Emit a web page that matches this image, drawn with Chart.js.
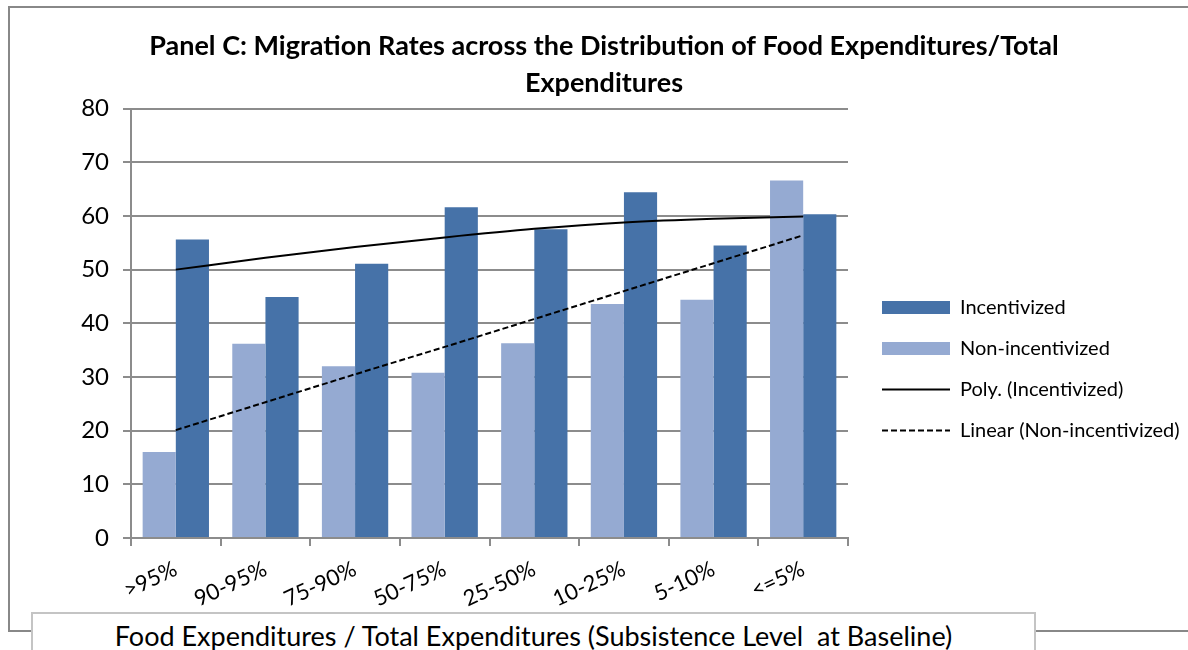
<!DOCTYPE html>
<html>
<head>
<meta charset="utf-8">
<title>Panel C</title>
<script src="https://cdn.jsdelivr.net/npm/chart.js@4.4.1/dist/chart.umd.min.js"></script>
<style>
  html, body { margin: 0; padding: 0; background: #fff; }
  body { position: relative; width: 1188px; height: 650px; overflow: hidden; font-family: Lato, "Open Sans", sans-serif; }
  #frame { position: absolute; left: 8px; top: 6px; width: 1200px; height: 622px; border: 2px solid #888; }
  #chart { position: absolute; left: 0; top: 0; }
  #xtitle {
    position: absolute; left: 31px; top: 612px; width: 1001px; height: 60px;
    border: 2px solid #c4c4c4; background: #fff;
    text-align: center; font-size: 27px; line-height: 44px; white-space: pre; color: #000;
  }
</style>
</head>
<body>
<div id="frame"></div>
<canvas id="chart" width="1188" height="650"></canvas>
<div id="xtitle">Food Expenditures / Total Expenditures (Subsistence Level  at Baseline)</div>
<script>
const categories = [">95%", "90-95%", "75-90%", "50-75%", "25-50%", "10-25%", "5-10%", "<=5%"];
const nonIncentivized = [16.0, 36.2, 32.0, 30.8, 36.3, 43.6, 44.4, 66.6];
const incentivized = [55.6, 44.9, 51.1, 61.6, 57.5, 64.4, 54.5, 60.3];
// trendlines at each category centre
const polyIncentivized = [50.0, 52.2, 54.2, 56.0, 57.6, 58.8, 59.5, 59.9];
const linearNonIncentivized = [20.1, 25.3, 30.5, 35.6, 40.8, 46.0, 51.2, 56.4];
const yTicks = [0, 10, 20, 30, 40, 50, 60, 70, 80];
const legendOrder = ["Incentivized", "Non-incentivized", "Poly. (Incentivized)", "Linear (Non-incentivized)"];

const darkBlue = "#4672a8";
const lightBlue = "#95aad2";
const gridGray = "#8c8c8c";
const font = "Lato, 'Open Sans', sans-serif";

// legend entries: bars as filled boxes, trendlines as (dashed) strokes
function legendLabels(chart) {
  const items = Chart.defaults.plugins.legend.labels.generateLabels(chart);
  items.forEach((item) => {
    const ds = chart.data.datasets[item.datasetIndex];
    if (ds.type === "line") {
      item.lineWidth = ds.borderWidth;
      item.lineDash = ds.borderDash || [];
      item.strokeStyle = ds.borderColor;
    } else {
      item.lineWidth = 0;
    }
  });
  return items;
}

const ctx = document.getElementById("chart").getContext("2d");
new Chart(ctx, {
  type: "bar",
  data: {
    labels: categories,
    datasets: [
      {
        label: "Non-incentivized",
        data: nonIncentivized,
        backgroundColor: lightBlue,
        borderWidth: 0,
        pointStyle: "rect",
        categoryPercentage: 0.74,
        barPercentage: 1,
        order: 1,
      },
      {
        label: "Incentivized",
        data: incentivized,
        backgroundColor: darkBlue,
        borderWidth: 0,
        pointStyle: "rect",
        categoryPercentage: 0.74,
        barPercentage: 1,
        order: 1,
      },
      {
        type: "line",
        label: "Poly. (Incentivized)",
        data: polyIncentivized,
        borderColor: "#000",
        backgroundColor: "#000",
        borderWidth: 2,
        pointRadius: 0,
        pointStyle: "line",
        cubicInterpolationMode: "monotone",
        fill: false,
        order: 0,
      },
      {
        type: "line",
        label: "Linear (Non-incentivized)",
        data: linearNonIncentivized,
        borderColor: "#000",
        backgroundColor: "#000",
        borderWidth: 2,
        borderDash: [6, 3],
        pointRadius: 0,
        pointStyle: "line",
        fill: false,
        order: 0,
      },
    ],
  },
  options: {
    responsive: false,
    animation: false,
    layout: { padding: { left: 20, right: 0, top: 0, bottom: 12 } },
    plugins: {
      title: {
        display: true,
        text: ["Panel C: Migration Rates across the Distribution of Food Expenditures/Total", "Expenditures"],
        color: "#000",
        font: { family: font, size: 27, weight: "bold", lineHeight: 1.4 },
        padding: { top: 27, bottom: 6 },
      },
      legend: {
        position: "right",
        align: "center",
        maxWidth: 327,
        title: { display: true, text: " ", font: { size: 12, lineHeight: 1 }, padding: { top: 88, bottom: 0 } },
        labels: {
          usePointStyle: true,
          pointStyleWidth: 68,
          boxHeight: 13,
          padding: 21,
          color: "#000",
          font: { family: font, size: 20 },
          generateLabels: legendLabels,
          sort: (a, b) => legendOrder.indexOf(a.text) - legendOrder.indexOf(b.text),
        },
      },
      tooltip: { enabled: false },
    },
    scales: {
      x: {
        offset: true,
        afterFit: (scale) => { scale.height = 100; },
        grid: { display: true, drawOnChartArea: false, offset: true, color: gridGray, lineWidth: 2, tickLength: 8 },
        border: { color: gridGray, width: 2 },
        ticks: { color: "#000", font: { family: font, size: 22 }, minRotation: 25, maxRotation: 25, padding: 10 },
      },
      y: {
        min: 0,
        max: 80,
        afterBuildTicks: (scale) => { scale.ticks = yTicks.map((v) => ({ value: v })); },
        afterFit: (scale) => { scale.width = 111; },
        grid: { color: gridGray, lineWidth: 2, tickLength: 8 },
        border: { color: gridGray, width: 2 },
        ticks: { color: "#000", font: { family: font, size: 24 }, padding: 14 },
      },
      yGap: {
        position: "right",
        grid: { display: false },
        border: { display: false },
        ticks: { display: false },
        afterFit: (scale) => { scale.width = 13; },
      },
    },
  },
});
</script>
</body>
</html>
